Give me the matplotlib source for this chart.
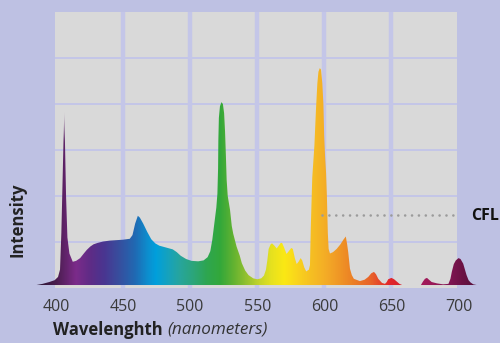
import numpy as np
import matplotlib
matplotlib.use("Agg")
import matplotlib.pyplot as plt
from matplotlib.colors import LinearSegmentedColormap

plt.rcParams['font.family'] = ['Open Sans', 'DejaVu Sans']

# CFL emission spectrum: wavelength (nm) and relative intensity (grid units)
wavelength = [
    385.5, 390, 395, 399, 401.5, 403.0, 404.0, 404.8, 405.6, 406.2, 406.8, 407.5,
    408.5, 410.0, 412.5, 415, 418, 421, 423, 425.5, 428, 431, 435, 440, 445, 450,
    455, 457, 459, 461, 462.5, 465, 468, 471, 474, 477, 482, 487, 490, 493, 497,
    501, 506, 510, 513, 515, 516.5, 518, 519.5, 520.3, 520.8, 521.0, 521.4, 522.2,
    523.3, 524.4, 525.3, 526.0, 526.6, 527.2, 528.0, 529.7, 531, 532.1, 534.6, 537,
    538.5, 541, 543.5, 547, 550, 553, 555, 556.5, 557.5, 558.5, 560, 561, 562.5,
    564.5, 566, 567.5, 568.5, 570, 571.8, 573.5, 575.3, 576.5, 578, 579.4, 581,
    582.3, 583.5, 585, 586.5, 588.5, 589.3, 589.9, 591.0, 592.6, 593.8, 594.8,
    595.6, 596.6, 597.5, 598.5, 599.3, 599.9, 600.5, 601.3, 601.9, 602.6, 603.2,
    604.2, 606.5, 609.2, 612, 614.2, 616.0, 617.0, 617.8, 619.1, 620.5, 622, 626.5,
    630, 632.7, 635, 637, 638.5, 640.2, 643, 645.2, 646.5, 647.6, 650, 652, 654,
    656, 658, 672, 673.5, 675, 676.5, 678, 680, 684, 688.5, 692.5, 694, 695, 696.5,
    698, 700.0, 701.5, 703.5, 705, 706, 707.5, 709, 711, 713.5,
]
intensity = [
    0.065, 0.09, 0.13, 0.17, 0.24, 0.40, 1.20, 2.20, 3.20, 3.83, 3.00, 2.00,
    1.10, 0.75, 0.57, 0.59, 0.65, 0.76, 0.83, 0.90, 0.95, 0.98, 1.01, 1.03, 1.04, 1.05,
    1.07, 1.15, 1.40, 1.57, 1.53, 1.40, 1.22, 1.06, 0.97, 0.92, 0.88, 0.84, 0.78, 0.70, 0.63,
    0.59, 0.58, 0.60, 0.67, 0.80, 1.05, 1.40, 1.75, 2.05, 2.60, 3.20, 3.70, 3.95,
    4.04, 4.00, 3.80, 3.40, 2.90, 2.35, 2.00, 1.70, 1.35, 1.18, 0.90, 0.70,
    0.54, 0.38, 0.28, 0.21, 0.19, 0.21, 0.27, 0.40, 0.60, 0.85, 0.95, 0.97, 0.93,
    0.86, 0.92, 0.98, 0.98, 0.88, 0.74, 0.80, 0.87, 0.85, 0.65, 0.52, 0.58,
    0.65, 0.60, 0.45, 0.36, 0.40, 0.50, 1.30, 2.40, 3.10, 3.90, 4.45,
    4.70, 4.78, 4.75, 4.45, 4.00, 3.30, 2.90, 2.50, 2.00, 1.20, 0.85,
    0.75, 0.78, 0.85, 0.95, 1.05, 1.12, 0.95, 0.78, 0.42, 0.28, 0.20, 0.15,
    0.18, 0.24, 0.32, 0.35, 0.30, 0.20, 0.11, 0.09, 0.13, 0.19, 0.22, 0.19, 0.14,
    0.09, 0.065, 0.065, 0.14, 0.20, 0.22, 0.18, 0.13, 0.10, 0.08, 0.09, 0.20, 0.35, 0.52,
    0.60, 0.65, 0.63, 0.53, 0.38, 0.28, 0.17, 0.12, 0.08, 0.065,
]
baseline = 0.065

tick_values = [400, 450, 500, 550, 600, 650, 700]
tick_labels = ['400', '450', '500', '550', '600', '650', '700']
grid_x = [450, 500, 550, 600, 650]
grid_y = [1, 2, 3, 4, 5]
plot_range = (399, 699)
cfl_level = 1.58

# spectral colour ramp by wavelength
ramp = [
    (385, '#2a1632'), (400, '#4b1d50'), (414, '#7c2b8a'), (425, '#5e2c86'),
    (435, '#4a3590'), (447, '#36509f'), (458, '#2168b2'), (468, '#0c8fcf'),
    (474, '#009fdc'), (483, '#16a2bd'), (492, '#27a59c'), (502, '#2ca57a'),
    (512, '#2ea650'), (522, '#33a83a'), (532, '#62b231'), (542, '#95c22f'),
    (551, '#c3d42a'), (561, '#e8e21e'), (570, '#fbe814'), (580, '#f9d31d'),
    (590, '#f6bf22'), (600, '#f4ae26'), (610, '#f09926'), (620, '#ec8225'),
    (635, '#e8622a'), (648, '#e2282a'), (658, '#d8202f'), (672, '#a51a5b'),
    (682, '#981a58'), (695, '#7d1550'), (702, '#6d1245'), (714, '#55103a'),
]

BG = '#bec1e3'
PANEL = '#d9d9d9'
GRID = '#c4c6e8'

W, H, DPI = 500, 343, 100
fig = plt.figure(figsize=(W / DPI, H / DPI), dpi=DPI, facecolor=BG)

# axes spans full width; panel occupies 400-700 nm
px_per_nm = (458.5 - 56) / 300.0
x_left = 400 - 56 / px_per_nm
x_right = 400 + (W - 56) / px_per_nm
ax_bottom_px, ax_top_px = 288, 12
ax = fig.add_axes([0, (H - ax_bottom_px) / H, 1, (ax_bottom_px - ax_top_px) / H])
ax.set_facecolor('none')
ax.set_xlim(x_left, x_right)
ax.set_ylim(0, 6)
for s in ax.spines.values():
    s.set_visible(False)

ax.axvspan(plot_range[0], plot_range[1], ymin=0, ymax=1, color=PANEL, zorder=0, lw=0)
ax.vlines(grid_x, 0, 6, color=GRID, lw=3.2, zorder=1)
ax.hlines(grid_y, plot_range[0], plot_range[1], color=GRID, lw=1.4, zorder=1)

# spectrum area with colour gradient
fb = ax.fill_between(wavelength, baseline, intensity, facecolor='none', lw=0, zorder=2)
stops = [((w - ramp[0][0]) / (ramp[-1][0] - ramp[0][0]), c) for w, c in ramp]
cmap = LinearSegmentedColormap.from_list('spectrum', stops)
nx, ny = 1200, 400
xs = np.linspace(ramp[0][0], ramp[-1][0], nx)
ys = np.linspace(0, 6, ny)
rgba = cmap((xs - ramp[0][0]) / (ramp[-1][0] - ramp[0][0]))
img = np.tile(rgba[None, :, :], (ny, 1, 1))
# soft fade at the top of the violet line
XX, YY = np.meshgrid(xs, ys)
fade = np.clip((YY - 3.2) / (3.85 - 3.2), 0, 1)
mask = (XX > 400) & (XX < 412)
img[..., 3] = np.where(mask, 1 - 0.85 * fade, 1.0)
im = ax.imshow(img, extent=(xs[0], xs[-1], 0, 6), origin='lower', aspect='auto',
               zorder=2, interpolation='bilinear')
im.set_clip_path(fb.get_paths()[0], transform=ax.transData)

# CFL callout
ax.plot([598, 699.5], [cfl_level, cfl_level], color='#9b9b9b', lw=1.9,
        linestyle=(0, (0.01, 2.6)), dash_capstyle='round', zorder=3, clip_on=False)
fig.text(471 / W, 1 - 215.5 / H, 'CFL', fontsize=11.5, fontweight='bold',
         color='#111111', ha='left', va='center')

ax.set_xticks(tick_values)
ax.set_xticklabels(tick_labels)
ax.set_yticks([])
ax.tick_params(axis='x', length=0, pad=8, labelsize=11.5, labelcolor='#3a3a3a')

fig.text(18 / W, 1 - 220 / H, 'Intensity', rotation=90, fontsize=12,
         fontweight='bold', color='#222222', ha='center', va='center')

renderer = fig.canvas.get_renderer()
t1 = fig.text(53 / W, 1 - 330 / H, 'Wavelenghth', fontsize=12, fontweight='bold',
              color='#222222', ha='left', va='center')
bb = t1.get_window_extent(renderer)
fig.text((bb.x1 + 5) / W, 1 - 330 / H, '(nanometers)', fontsize=12.3,
         fontstyle='italic', color='#333333', ha='left', va='center')

fig.savefig('out.png', dpi=DPI, facecolor=BG)
